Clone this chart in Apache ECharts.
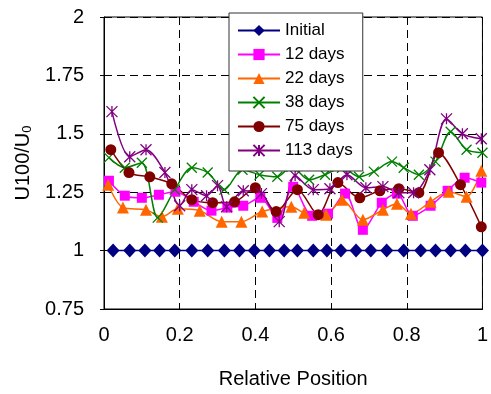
<!DOCTYPE html>
<html>
<head>
<meta charset="utf-8">
<script src="https://cdn.jsdelivr.net/npm/echarts@6/dist/echarts.min.js"></script>
<style>
  html, body { margin: 0; padding: 0; background: #fff; }
  #chart { width: 491px; height: 394px; }
</style>
</head>
<body>
<div id="chart"></div>
<script>
// values
const seriesNames = ["Initial", "12 days", "22 days", "38 days", "75 days", "113 days"];

const xInitial = [0.024, 0.068, 0.108, 0.147, 0.187, 0.232, 0.274, 0.318, 0.358, 0.397, 0.437, 0.476,
  0.511, 0.553, 0.589, 0.626, 0.666, 0.705, 0.747, 0.792, 0.837, 0.876, 0.916, 0.955, 1.0];
const yInitial = [1, 1, 1, 1, 1, 1, 1, 1, 1, 1, 1, 1, 1, 1, 1, 1, 1, 1, 1, 1, 1, 1, 1, 1, 1];

const x12 = [0.013, 0.055, 0.1, 0.145, 0.189, 0.237, 0.284, 0.326, 0.368, 0.413, 0.458, 0.5,
  0.55, 0.592, 0.637, 0.684, 0.734, 0.774, 0.816, 0.863, 0.908, 0.953, 0.997];
const y12 = [1.299, 1.235, 1.226, 1.239, 1.252, 1.209, 1.171, 1.184, 1.192, 1.226, 1.14, 1.273,
  1.149, 1.158, 1.244, 1.089, 1.205, 1.244, 1.149, 1.192, 1.256, 1.312, 1.291];

const x22 = [0.011, 0.05, 0.111, 0.153, 0.195, 0.253, 0.311, 0.363, 0.418, 0.495, 0.529,
  0.587, 0.629, 0.684, 0.737, 0.774, 0.811, 0.863, 0.911, 0.958, 0.997];
const y22 = [1.282, 1.184, 1.175, 1.145, 1.179, 1.171, 1.124, 1.124, 1.167, 1.188, 1.162,
  1.154, 1.218, 1.132, 1.175, 1.201, 1.158, 1.209, 1.252, 1.231, 1.342];

const x38 = [0.013, 0.055, 0.1, 0.142, 0.187, 0.232, 0.274, 0.318, 0.366, 0.411, 0.458, 0.495,
  0.542, 0.584, 0.629, 0.674, 0.713, 0.761, 0.792, 0.832, 0.876, 0.916, 0.958, 1.0];
const y38 = [1.398, 1.355, 1.376, 1.141, 1.261, 1.355, 1.334, 1.261, 1.346, 1.325, 1.316, 1.359,
  1.303, 1.325, 1.355, 1.316, 1.338, 1.381, 1.355, 1.325, 1.381, 1.509, 1.432, 1.419];

const x75 = [0.018, 0.066, 0.121, 0.179, 0.232, 0.287, 0.345, 0.4, 0.455, 0.511, 0.566,
  0.618, 0.676, 0.729, 0.779, 0.832, 0.884, 0.942, 0.997];
const y75 = [1.432, 1.334, 1.316, 1.286, 1.218, 1.205, 1.209, 1.269, 1.167, 1.261, 1.154,
  1.291, 1.226, 1.256, 1.265, 1.248, 1.419, 1.282, 1.102];

const x113 = [0.021, 0.068, 0.111, 0.161, 0.2, 0.232, 0.271, 0.3, 0.324, 0.368, 0.416, 0.463,
  0.505, 0.553, 0.597, 0.642, 0.692, 0.737, 0.779, 0.818, 0.861, 0.905, 0.947, 0.997];
const y113 = [1.595, 1.402, 1.432, 1.334, 1.192, 1.261, 1.235, 1.278, 1.188, 1.256, 1.244, 1.124,
  1.321, 1.261, 1.265, 1.325, 1.269, 1.274, 1.248, 1.248, 1.346, 1.564, 1.5, 1.479];

const colors = ["#000080", "#ff00ff", "#ff6600", "#008000", "#800000", "#800080"];

const xs = [xInitial, x12, x22, x38, x75, x113];
const ys = [yInitial, y12, y22, y38, y75, y113];

const symbols = [
  "diamond",
  "rect",
  "triangle",
  "path://M0,0L10,10M10,0L0,10",
  "circle",
  "path://M5,0L5,10M0,0L10,10M10,0L0,10"
];
const symbolSizes = [[13, 14], 10, 12, 10, 11, 11];

const zip = (a, b) => a.map((v, i) => [v, b[i]]);

const chart = echarts.init(document.getElementById("chart"));

const font = "Liberation Sans, Arial, sans-serif";

chart.setOption({
  animation: false,
  textStyle: { fontFamily: font, color: "#000" },
  grid: {
    left: 104,
    right: 7,
    top: 17,
    bottom: 85,
    show: true,
    borderColor: "#000",
    borderWidth: 1
  },
  legend: {
    orient: "vertical",
    left: 229,
    top: 13,
    padding: [9, 10, 12, 8],
    itemWidth: 42,
    itemHeight: 14,
    itemGap: 7,
    backgroundColor: "#fff",
    borderColor: "#333",
    borderWidth: 1,
    textStyle: { fontSize: 17, color: "#000", fontFamily: font, lineHeight: 16 },
    data: seriesNames
  },
  xAxis: {
    type: "value",
    min: 0,
    max: 1,
    interval: 0.2,
    name: "Relative Position",
    nameLocation: "middle",
    nameGap: 60,
    nameTextStyle: { fontSize: 20, color: "#000" },
    axisLine: { lineStyle: { color: "#000" } },
    axisTick: { show: true, inside: true, length: 5, lineStyle: { color: "#000" } },
    axisLabel: { fontSize: 20, color: "#000", margin: 16 },
    splitLine: { show: true, lineStyle: { color: "#000", type: [8, 5], width: 1 } }
  },
  yAxis: {
    type: "value",
    min: 0.75,
    max: 2,
    interval: 0.25,
    name: "{a|U100/U}{b|0}",
    nameLocation: "middle",
    nameGap: 70,
    nameTextStyle: {
      rich: {
        a: { fontSize: 20, color: "#000", fontFamily: font },
        b: { fontSize: 13, color: "#000", fontFamily: font, verticalAlign: "bottom", padding: [8, 0, 0, 0] }
      }
    },
    axisLine: { show: true, lineStyle: { color: "#000" } },
    axisTick: { show: true, length: 4, lineStyle: { color: "#000" } },
    axisLabel: { fontSize: 20, color: "#000", margin: 20 },
    splitLine: { show: true, lineStyle: { color: "#000", type: [8, 5], width: 1 } }
  },
  series: seriesNames.map((name, i) => ({
    name: name,
    type: "line",
    smooth: 0.3,
    data: zip(xs[i], ys[i]),
    symbol: symbols[i],
    symbolSize: symbolSizes[i],
    showAllSymbol: true,
    lineStyle: { color: colors[i], width: 1.5 },
    itemStyle: {
      color: colors[i],
      borderColor: colors[i],
      borderWidth: i === 3 || i === 5 ? 1.3 : 0
    }
  }))
});
</script>
</body>
</html>
